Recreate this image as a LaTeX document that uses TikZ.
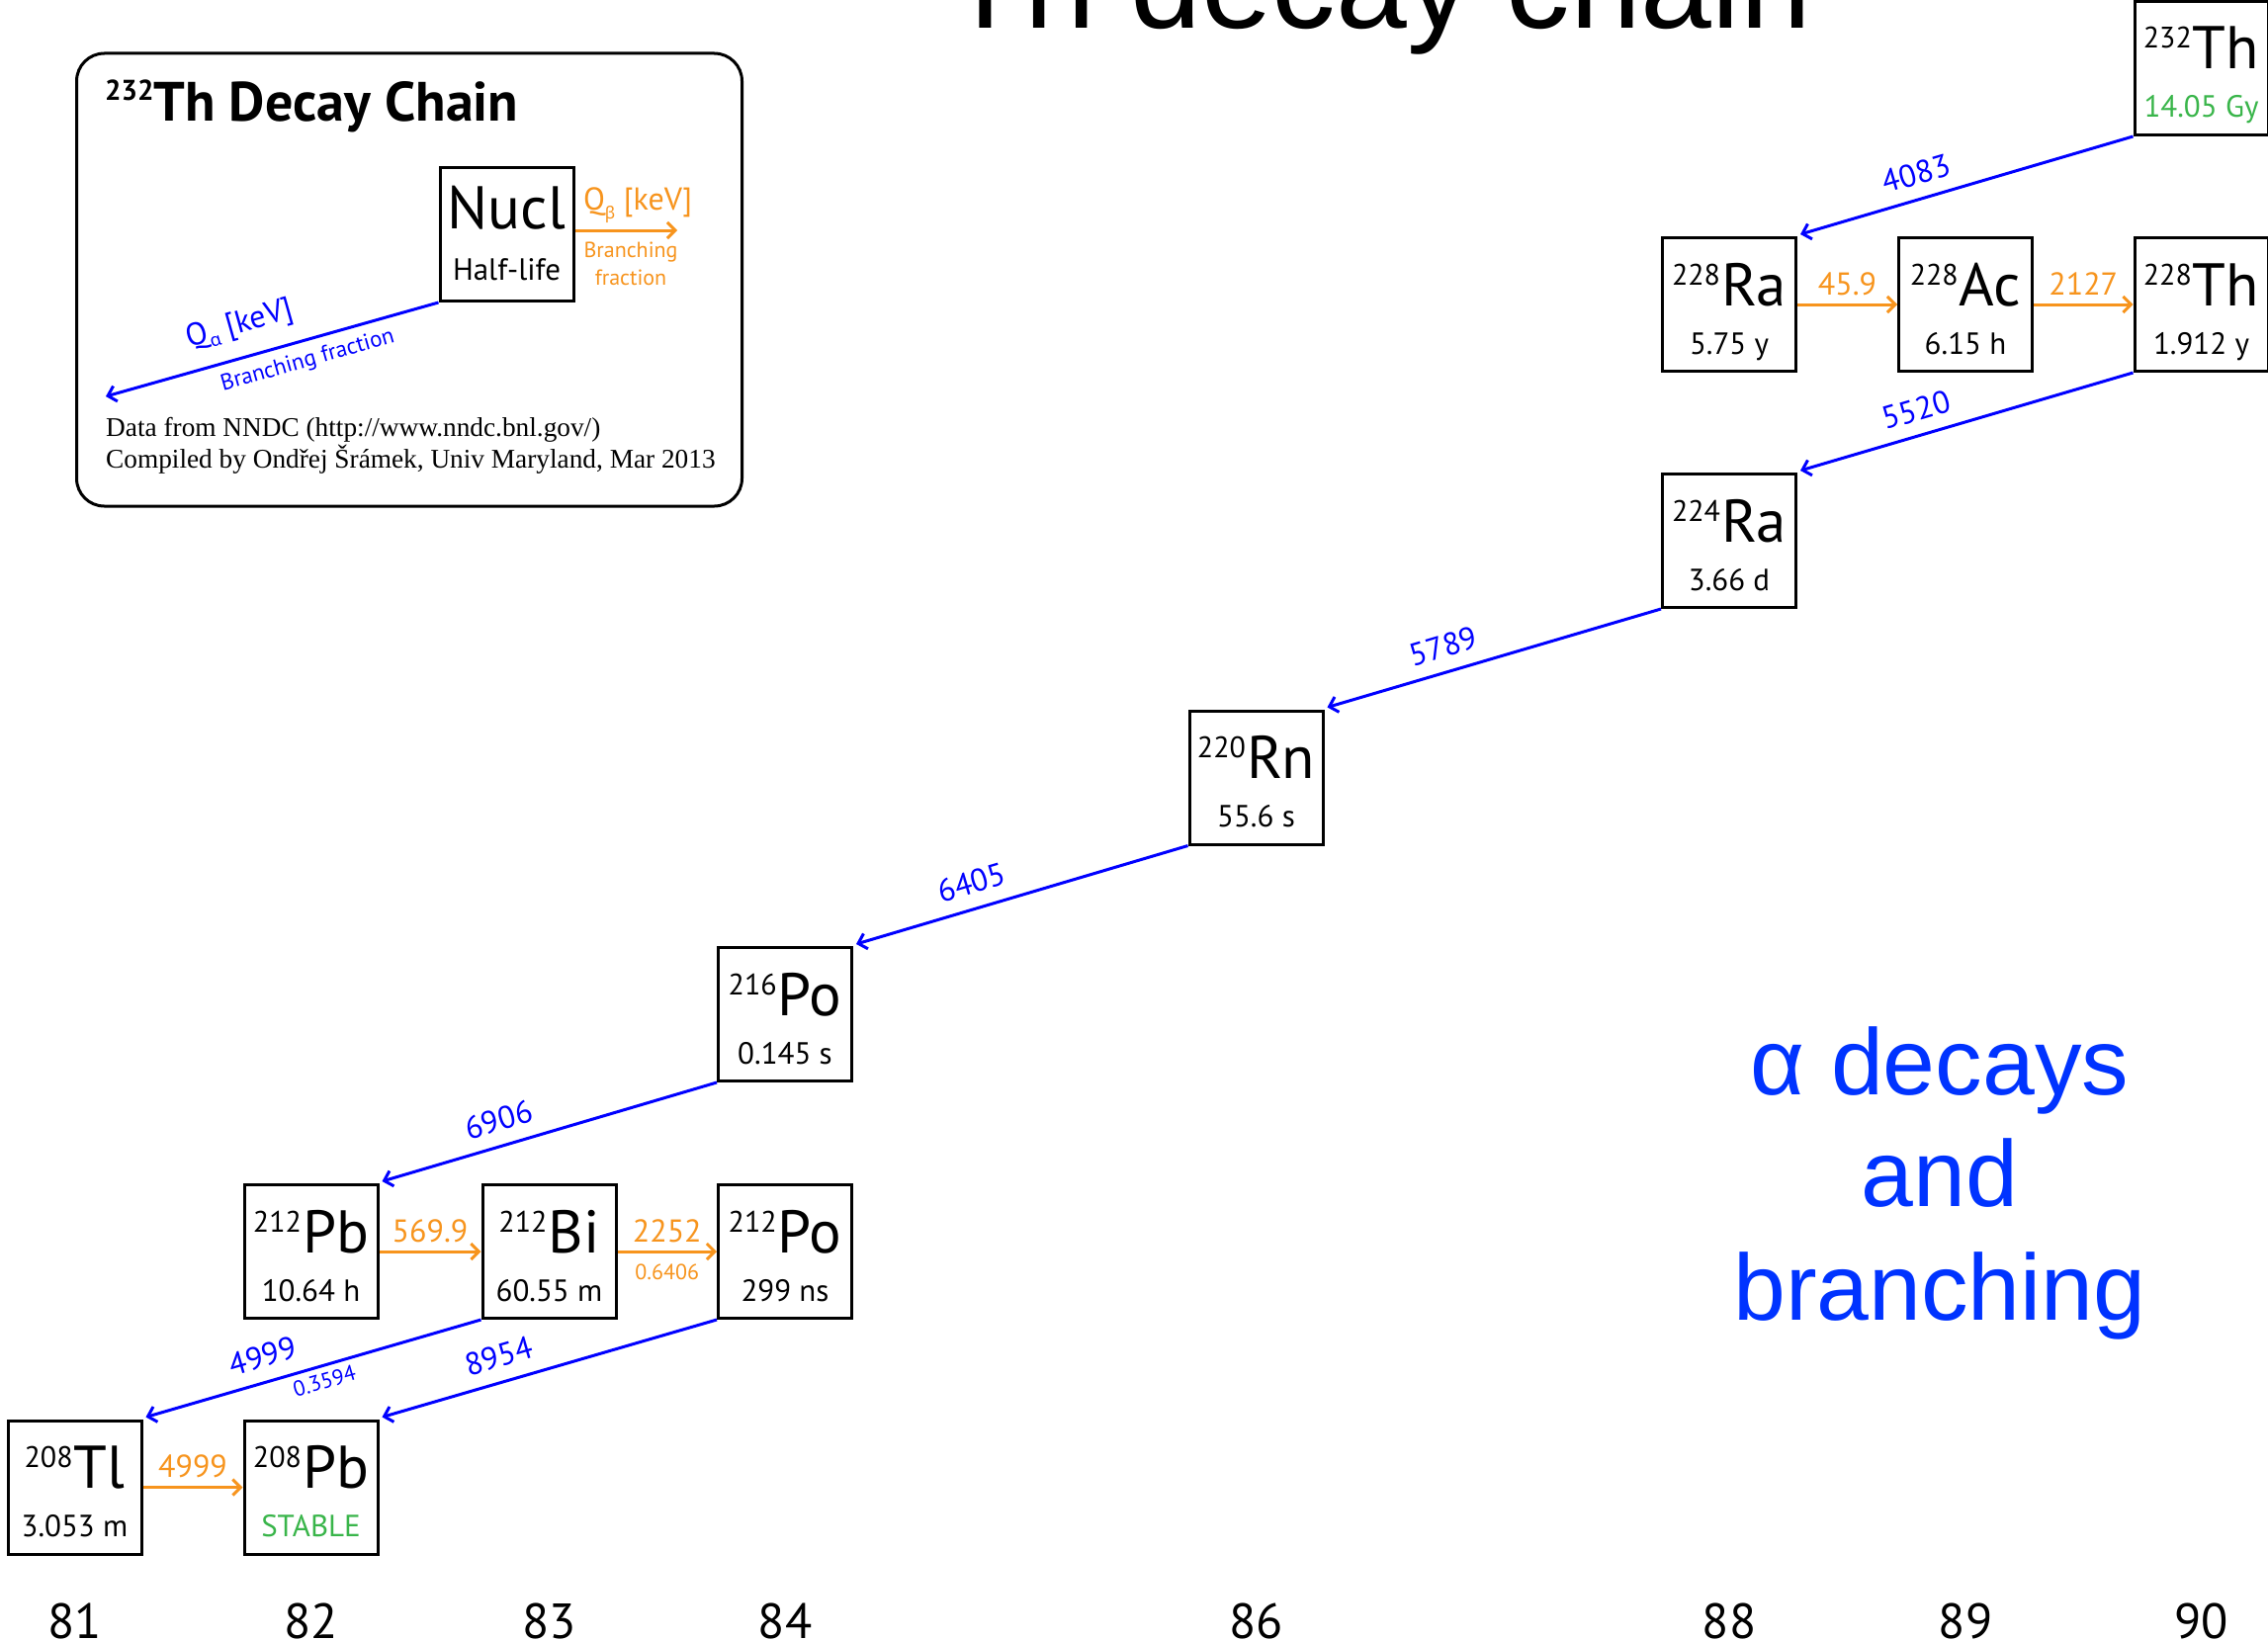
\documentclass[tikz,border=0pt]{standalone}
\usepackage{fontspec}
\setmainfont{PT Sans}
\newfontfamily\helvfont{Liberation Sans}
\newfontfamily\creditfont{Liberation Serif}
\newfontfamily\greekfont{Noto Sans}
\usetikzlibrary{arrows.meta,calc}

\definecolor{alphablue}{RGB}{0,0,255}
\definecolor{betaorange}{RGB}{247,148,29}
\definecolor{stablegreen}{RGB}{57,181,74}
\definecolor{captionblue}{RGB}{0,51,255}

\newcommand\fsz[1]{\fontsize{#1}{#1}\selectfont}
\newcommand\massno[1]{\raisebox{21pt}{\fsz{30}#1}\kern1pt}

\tikzset{
  nucbox/.style={draw, line width=3pt, minimum width=135pt, minimum height=135pt, inner sep=0pt},
  symtext/.style={anchor=base, inner sep=0pt, font=\fsz{61}},
  lifetext/.style={anchor=base, inner sep=0pt, font=\fsz{31}},
  alphaarrow/.style={alphablue, line width=3pt, -{Straight Barb[length=8pt,width=16pt]}},
  betaarrow/.style={betaorange, line width=3pt, -{Straight Barb[length=8pt,width=16pt]}},
  alab/.style={font=\fsz{32}, text=alphablue, sloped, above=11pt, inner sep=2pt},
  afrac/.style={font=\fsz{22}, text=alphablue, sloped, below=4pt, inner sep=2pt},
  blab/.style={font=\fsz{32}, text=betaorange, midway, above=6pt, inner sep=2pt},
  bfrac/.style={font=\fsz{22}, text=betaorange, midway, below=9pt, inner sep=2pt},
  axisnum/.style={anchor=base, inner sep=0pt, font=\fsz{50}},
  caption/.style={anchor=base, inner sep=0pt, font=\helvfont\fsz{95}, text=captionblue},
}

% one nuclide: name, x, y, mass number, symbol, half-life
\newcommand\nuclide[6]{%
  \node[nucbox] (#1) at (#2,#3) {};
  \node[symtext] (#1-sym) at ($(#1.center)+(0,1)$) {\massno{#4}#5};
  \node[lifetext] (#1-life) at ($(#1.center)+(0,50)$) {#6};
}

\begin{document}
\begin{tikzpicture}[x=1pt, y=-1pt]
\path[use as bounding box, clip] (0,0) rectangle (2294,1659);
\fill[white] (0,0) rectangle (2294,1659);

% heading, running off the top edge
\node[anchor=base west, inner sep=0pt, font=\helvfont\fsz{129}] (title) at (957,29) {Th decay chain};

% ---------- key ----------
\node[draw, line width=3pt, rounded corners=28pt, minimum width=673pt, minimum height=458pt, inner sep=0pt] (legend) at (414,283) {};
\node[anchor=base west, inner sep=0pt, font=\bfseries\fsz{56}] (legtitle) at (106,123) {\raisebox{21pt}{\fsz{29}232}Th Decay Chain};

\node[nucbox] (nucl) at (512.5,237) {};
\node[symtext] (nucl-sym) at ($(nucl.center)+(0,-6)$) {Nucl};
\node[lifetext] (nucl-life) at ($(nucl.center)+(0,46)$) {Half-life};

\coordinate (legtip) at (107,401);
\draw[alphaarrow] (nucl.south west) --
  node[alab, pos=0.57, above=3pt] {Q\raisebox{-6pt}{\greekfont\fsz{18}α} [keV]}
  node[afrac, pos=0.41, below=3pt, font=\fsz{23}] {Branching fraction} (legtip);

\coordinate (legbeta) at (685,233);
\draw[betaarrow] ($(nucl.east)+(0,-4)$) -- (legbeta);
\node[anchor=base, inner sep=0pt, font=\fsz{32}, text=betaorange] (legqb) at (645,212) {Q\raisebox{-9pt}{\greekfont\fsz{17}β} [keV]};
\node[anchor=base, inner sep=0pt, font=\fsz{22}, text=betaorange] (legbf1) at (638,260) {Branching};
\node[anchor=base, inner sep=0pt, font=\fsz{22}, text=betaorange] (legbf2) at (638,288) {fraction};

\node[anchor=base west, inner sep=0pt, font=\creditfont\fsz{27.3}] (credit1) at (107,441) {Data from NNDC (http://www.nndc.bnl.gov/)};
\node[anchor=base west, inner sep=0pt, font=\creditfont\fsz{27.3}] (credit2) at (107,473) {Compiled by Ondřej Šrámek, Univ Maryland, Mar 2013};

% ---------- nuclides ----------
\nuclide{th232}{2226.5}{69}{232}{Th}{\textcolor{stablegreen}{14.05 Gy}}
\nuclide{ra228}{1749}{308}{228}{Ra}{5.75 y}
\nuclide{ac228}{1988}{308}{228}{Ac}{6.15 h}
\nuclide{th228}{2226.5}{308}{228}{Th}{1.912 y}
\nuclide{ra224}{1749}{547}{224}{Ra}{3.66 d}
\nuclide{rn220}{1270.5}{786.5}{220}{Rn}{55.6 s}
\nuclide{po216}{794}{1026}{216}{Po}{0.145 s}
\nuclide{pb212}{314.5}{1266}{212}{Pb}{10.64 h}
\nuclide{bi212}{555.5}{1266}{212}{Bi}{60.55 m}
\nuclide{po212}{794}{1266}{212}{Po}{299 ns}
\nuclide{tl208}{75.5}{1504.5}{208}{Tl}{3.053 m}
\nuclide{pb208}{314.5}{1504.5}{208}{Pb}{\textcolor{stablegreen}{STABLE}}

% ---------- alpha decays ----------
\draw[alphaarrow] (th232.south west) -- node[alab, pos=0.63] {4083} ($(ra228.north east)+(3,-2)$);
\draw[alphaarrow] (th228.south west) -- node[alab, pos=0.63] {5520} ($(ra224.north east)+(3,-2)$);
\draw[alphaarrow] (ra224.south west) -- node[alab, pos=0.63] {5789} ($(rn220.north east)+(3,-2)$);
\draw[alphaarrow] (rn220.south west) -- node[alab, pos=0.63] {6405} ($(po216.north east)+(3,-2)$);
\draw[alphaarrow] (po216.south west) -- node[alab, pos=0.63] {6906} ($(pb212.north east)+(3,-2)$);
\draw[alphaarrow] (bi212.south west) -- node[alab, pos=0.63] {4999}
  node[afrac, pos=0.48] {0.3594} ($(tl208.north east)+(3,-2)$);
\draw[alphaarrow] (po212.south west) -- node[alab, pos=0.63] {8954} ($(pb208.north east)+(3,-2)$);

% ---------- beta decays ----------
\draw[betaarrow] (ra228.east) -- node[blab] {45.9} (ac228.west);
\draw[betaarrow] (ac228.east) -- node[blab] {2127} (th228.west);
\draw[betaarrow] (pb212.east) -- node[blab] {569.9} (bi212.west);
\draw[betaarrow] (bi212.east) -- node[blab] {2252} node[bfrac] {0.6406} (po212.west);
\draw[betaarrow] (tl208.east) -- node[blab] {4999} (pb208.west);

% ---------- proton numbers ----------
\node[axisnum] (z81) at (75.5,1657) {81};
\node[axisnum] (z82) at (314.5,1657) {82};
\node[axisnum] (z83) at (555.5,1657) {83};
\node[axisnum] (z84) at (794,1657) {84};
\node[axisnum] (z86) at (1270.5,1657) {86};
\node[axisnum] (z88) at (1749,1657) {88};
\node[axisnum] (z89) at (1988,1657) {89};
\node[axisnum] (z90) at (2226.5,1657) {90};

% ---------- caption ----------
\node[caption] (cap1) at (1962,1107) {α decays};
\node[caption] (cap2) at (1962,1220) {and};
\node[caption] (cap3) at (1962,1335) {branching};
\end{tikzpicture}
\end{document}
